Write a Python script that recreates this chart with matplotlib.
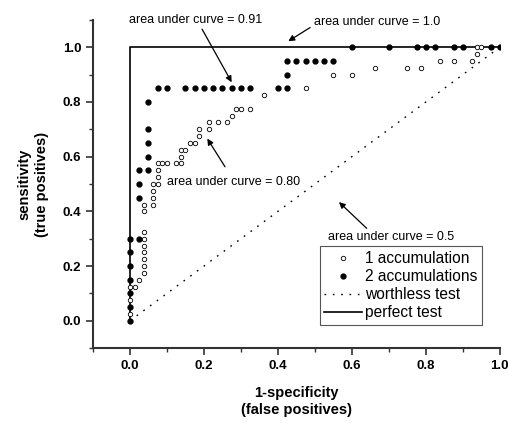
import matplotlib

matplotlib.use("Agg")

import matplotlib.pyplot as plt
from matplotlib.ticker import MultipleLocator

plt.rcParams["font.family"] = ["Liberation Sans", "DejaVu Sans"]

# 1 accumulation (open circles)
one_x = [0.0, 0.0, 0.0, 0.0125, 0.025,
         0.0375, 0.0375, 0.0375, 0.0375, 0.0375, 0.0375, 0.0375, 0.0375, 0.0375,
         0.0625, 0.0625, 0.0625, 0.0625,
         0.075, 0.075, 0.075, 0.075,
         0.0875, 0.1, 0.125, 0.1375, 0.1375, 0.1375, 0.15,
         0.1625, 0.175, 0.1875, 0.1875, 0.2125, 0.2125, 0.2375, 0.2625,
         0.275, 0.2875, 0.3, 0.325, 0.3625, 0.475, 0.55, 0.6,
         0.6625, 0.75, 0.7875, 0.8375, 0.875, 0.925, 0.9375, 0.9375, 0.95]
one_y = [0.025, 0.075, 0.125, 0.125, 0.15,
         0.175, 0.2, 0.225, 0.25, 0.275, 0.3, 0.325, 0.4, 0.425,
         0.425, 0.45, 0.475, 0.5,
         0.5, 0.525, 0.55, 0.575,
         0.575, 0.575, 0.575, 0.575, 0.6, 0.625, 0.625,
         0.65, 0.65, 0.675, 0.7, 0.7, 0.725, 0.725, 0.725,
         0.75, 0.775, 0.775, 0.775, 0.825, 0.85, 0.9, 0.9,
         0.925, 0.925, 0.925, 0.95, 0.95, 0.95, 0.975, 1.0, 1.0]

# 2 accumulations (filled dots)
two_x = [0.0, 0.0, 0.0, 0.0, 0.0, 0.0, 0.0,
         0.025, 0.025, 0.025, 0.025,
         0.05, 0.05, 0.05, 0.05, 0.05,
         0.075, 0.1, 0.15, 0.175, 0.2, 0.225, 0.25, 0.275, 0.3, 0.325, 0.4, 0.425,
         0.425,
         0.425, 0.45, 0.475, 0.5, 0.525, 0.55,
         0.6, 0.7, 0.775, 0.8, 0.825, 0.875, 0.9, 0.975, 1.0]
two_y = [0.0, 0.05, 0.1, 0.15, 0.2, 0.25, 0.3,
         0.3, 0.45, 0.5, 0.55,
         0.55, 0.6, 0.65, 0.7, 0.8,
         0.85, 0.85, 0.85, 0.85, 0.85, 0.85, 0.85, 0.85, 0.85, 0.85, 0.85, 0.85,
         0.9,
         0.95, 0.95, 0.95, 0.95, 0.95, 0.95,
         1.0, 1.0, 1.0, 1.0, 1.0, 1.0, 1.0, 1.0, 1.0]

worthless_x = [0.0, 1.0]
worthless_y = [0.0, 1.0]
perfect_x = [0.0, 0.0, 1.0]
perfect_y = [0.0, 1.0, 1.0]

# (text, text position, arrow tail, arrow head)
notes = [
    ("area under curve = 0.91", (0.178, 1.100), (0.195, 1.066), (0.275, 0.872)),
    ("area under curve = 1.0", (0.669, 1.092), (0.487, 1.072), (0.428, 1.022)),
    ("area under curve = 0.80", (0.279, 0.506), (0.257, 0.563), (0.209, 0.666)),
    ("area under curve = 0.5", (0.705, 0.305), (0.640, 0.338), (0.565, 0.434)),
]

fig = plt.figure(figsize=(5.08, 4.23), dpi=100)
ax = fig.add_axes([0.183, 0.177, 0.801, 0.776])

ax.plot(worthless_x, worthless_y, color="black", linewidth=1.0,
        linestyle=(0, (1.2, 4.8)), label="worthless test")
ax.plot(perfect_x, perfect_y, color="black", linewidth=1.2, label="perfect test")
ax.plot(one_x, one_y, linestyle="none", marker="o", markersize=3.2,
        markerfacecolor="white", markeredgecolor="black", markeredgewidth=0.6,
        label="1 accumulation", zorder=3)
ax.plot(two_x, two_y, linestyle="none", marker="o", markersize=3.5,
        color="black", label="2 accumulations", zorder=4)

for text, pos, tail, head in notes:
    ax.text(pos[0], pos[1], text, fontsize=9.0, ha="center", va="center")
    ax.annotate("", xy=head, xytext=tail,
                arrowprops=dict(arrowstyle="-|>", color="black", lw=0.9,
                                mutation_scale=9, shrinkA=0, shrinkB=0))

ax.set_xlim(-0.1, 1.0)
ax.set_ylim(-0.1, 1.1)
ax.xaxis.set_minor_locator(MultipleLocator(0.1))
ax.yaxis.set_minor_locator(MultipleLocator(0.1))
ax.set_xticks([0.0, 0.2, 0.4, 0.6, 0.8, 1.0])
ax.set_yticks([0.0, 0.2, 0.4, 0.6, 0.8, 1.0])
ax.tick_params(which="major", direction="out", length=5, width=1.2,
               labelsize=9.5, colors="#333333", labelcolor="black")
ax.tick_params(which="minor", direction="out", length=3, width=1.0, colors="#333333")
for lab in ax.get_xticklabels() + ax.get_yticklabels():
    lab.set_fontweight("bold")

for side in ("top", "right"):
    ax.spines[side].set_visible(False)
for side in ("left", "bottom"):
    ax.spines[side].set_linewidth(1.5)
    ax.spines[side].set_color("#333333")

ax.set_xlabel("1-specificity\n(false positives)", fontsize=10.5, fontweight="bold",
              labelpad=10, linespacing=1.25)
ax.set_ylabel("sensitivity\n(true positives)", fontsize=10.5, fontweight="bold",
              labelpad=10, linespacing=1.25)

handles, labels = ax.get_legend_handles_labels()
order = [2, 3, 0, 1]
leg = ax.legend([handles[i] for i in order], [labels[i] for i in order],
                loc="lower right", bbox_to_anchor=(0.956, 0.07), fontsize=11.2,
                frameon=True, fancybox=False, framealpha=1, edgecolor="#555555",
                handlelength=2.4, handletextpad=0.2, borderpad=0.3,
                labelspacing=0.2, borderaxespad=0.0)
leg.get_frame().set_linewidth(0.8)

fig.savefig("out.png", dpi=100)
